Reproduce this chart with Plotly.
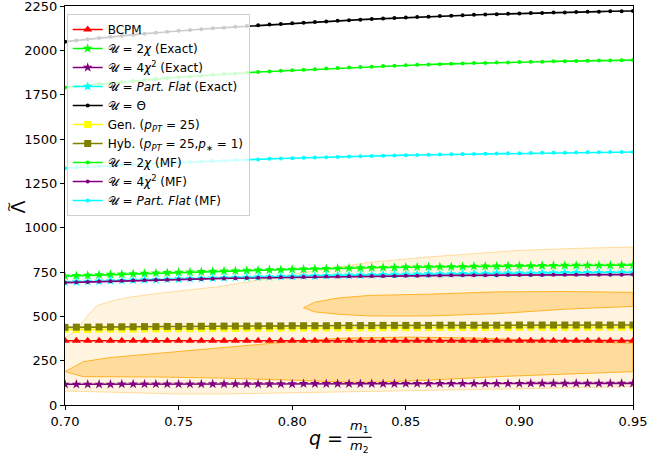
import numpy as np
import plotly.graph_objects as go

# ---------------- data ----------------
q = np.round(np.arange(0.70, 0.9501, 0.005), 3)

bcpm = [362, 362, 362, 362, 363, 363, 363, 363, 363, 363,
        363, 363, 363, 363, 363, 363, 363, 363, 363, 363,
        363, 363, 363, 363, 363, 363, 363, 363, 363, 363,
        363, 363, 363, 363, 363, 363, 363, 363, 363, 363,
        363, 363, 363, 363, 363, 363, 363, 363, 363, 363, 363]

chi2_exact = [727, 729, 731, 734, 736, 738, 740, 742, 744, 746,
              748, 750, 752, 753, 755, 757, 759, 760, 762, 763,
              765, 766, 768, 769, 771, 772, 773, 774, 775, 776,
              777, 778, 779, 779, 780, 781, 782, 783, 783, 784,
              785, 785, 786, 786, 787, 787, 788, 788, 788, 789, 789]

chisq4_exact = [117, 117, 117, 117, 117, 118, 118, 118, 118, 118,
                118, 118, 118, 119, 119, 119, 119, 119, 119, 119,
                119, 120, 120, 120, 120, 120, 120, 120, 120, 120,
                121, 121, 121, 121, 121, 121, 121, 121, 121, 121,
                121, 122, 122, 122, 122, 122, 122, 122, 122, 122, 122]

pflat_exact = [692, 694, 696, 698, 700, 702, 704, 706, 707, 709,
               711, 713, 714, 716, 717, 719, 720, 722, 723, 725,
               726, 727, 728, 730, 731, 732, 733, 734, 735, 736,
               737, 738, 739, 739, 740, 741, 742, 742, 743, 743,
               744, 744, 745, 745, 746, 746, 746, 747, 747, 748, 748]

theta = [2049, 2056, 2063, 2069, 2076, 2082, 2088, 2094, 2099, 2105,
         2110, 2115, 2119, 2124, 2128, 2133, 2137, 2141, 2145, 2149,
         2153, 2156, 2160, 2163, 2167, 2170, 2173, 2176, 2179, 2182,
         2185, 2188, 2190, 2193, 2195, 2198, 2200, 2202, 2204, 2206,
         2208, 2210, 2211, 2213, 2214, 2216, 2217, 2218, 2220, 2221, 2222]

gen = [425, 426, 426, 427, 427, 428, 428, 429, 429, 430,
       430, 430, 431, 431, 432, 432, 432, 433, 433, 433,
       434, 434, 434, 434, 435, 435, 435, 435, 436, 436,
       436, 436, 436, 437, 437, 437, 437, 437, 437, 437,
       438, 438, 438, 438, 438, 438, 438, 438, 438, 438, 438]

hyb = [438, 439, 439, 440, 440, 441, 441, 442, 442, 443,
       443, 443, 444, 444, 445, 445, 445, 446, 446, 446,
       447, 447, 447, 447, 448, 448, 448, 448, 449, 449,
       449, 449, 449, 450, 450, 450, 450, 450, 450, 450,
       451, 451, 451, 451, 451, 451, 451, 451, 451, 451, 451]

chi2_mf = [1791, 1797, 1804, 1810, 1816, 1822, 1827, 1833, 1838, 1843,
           1848, 1853, 1857, 1862, 1866, 1870, 1874, 1878, 1881, 1885,
           1888, 1891, 1894, 1897, 1900, 1903, 1906, 1908, 1911, 1913,
           1916, 1918, 1920, 1922, 1924, 1926, 1928, 1929, 1931, 1932,
           1934, 1935, 1936, 1938, 1939, 1940, 1941, 1942, 1943, 1944, 1945]

chisq4_mf = [690, 692, 694, 696, 698, 700, 702, 703, 705, 706,
             708, 709, 711, 712, 714, 715, 716, 717, 719, 720,
             721, 722, 723, 724, 725, 726, 727, 727, 728, 728,
             729, 729, 730, 730, 731, 731, 731, 732, 732, 733,
             733, 733, 733, 734, 734, 734, 734, 735, 735, 735, 736]

pflat_mf = [1335, 1339, 1342, 1346, 1349, 1353, 1356, 1359, 1362, 1365,
            1368, 1371, 1373, 1376, 1378, 1381, 1383, 1385, 1388, 1390,
            1392, 1394, 1396, 1397, 1399, 1401, 1403, 1404, 1406, 1407,
            1409, 1410, 1411, 1413, 1414, 1415, 1416, 1417, 1418, 1419,
            1420, 1421, 1422, 1422, 1423, 1424, 1425, 1425, 1426, 1426, 1427]

# credible-region contours (q, Lambda) boundaries
outer_q = [0.700, 0.705, 0.710, 0.714, 0.720, 0.727, 0.740, 0.768, 0.800, 0.834,
           0.860, 0.900, 0.930, 0.950,
           0.950, 0.900, 0.850, 0.800, 0.770, 0.750, 0.730, 0.715, 0.700]
outer_lam = [380, 420, 505, 560, 585, 605, 628, 668, 737, 805,
             835, 872, 885, 891,
             103, 92, 80, 68, 62, 62, 70, 76, 79]

inner1_q = [0.700, 0.708, 0.720, 0.740, 0.768, 0.800, 0.820, 0.850, 0.880, 0.910, 0.950,
            0.950, 0.920, 0.890, 0.860, 0.830, 0.800, 0.768, 0.740, 0.708, 0.700]
inner1_lam = [188, 244, 268, 290, 325, 358, 376, 383, 378, 365, 348,
              188, 175, 160, 140, 127, 140, 152, 158, 160, 188]

inner2_q = [0.805, 0.810, 0.820, 0.834, 0.860, 0.890, 0.920, 0.950,
            0.950, 0.920, 0.890, 0.860, 0.834, 0.820, 0.810, 0.805]
inner2_lam = [549, 580, 603, 618, 625, 638, 640, 635,
              556, 540, 515, 502, 502, 512, 525, 549]

xticks = [0.70, 0.75, 0.80, 0.85, 0.90, 0.95]
yticks = [0, 250, 500, 750, 1000, 1250, 1500, 1750, 2000, 2250]

U = "\U0001D4B0"
names = [
    "BCPM",
    f"{U} = 2<i>χ</i> (Exact)",
    f"{U} = 4<i>χ</i><sup>2</sup> (Exact)",
    f"{U} = <i>Part. Flat</i> (Exact)",
    f"{U} = Θ",
    "Gen. (<i>p</i><sub><i>PT</i></sub> = 25)",
    "Hyb. (<i>p</i><sub><i>PT</i></sub> = 25,<i>p</i><sub>∗</sub> = 1)",
    f"{U} = 2<i>χ</i> (MF)",
    f"{U} = 4<i>χ</i><sup>2</sup> (MF)",
    f"{U} = <i>Part. Flat</i> (MF)",
]

# ---------------- figure ----------------
fig = go.Figure()

fig.add_trace(go.Scatter(x=outer_q, y=outer_lam, fill="toself", mode="lines",
                         fillcolor="rgba(255,165,0,0.12)",
                         line=dict(color="rgba(255,165,0,0.35)", width=1),
                         showlegend=False, hoverinfo="skip"))
for qq, ll in [(inner1_q, inner1_lam), (inner2_q, inner2_lam)]:
    fig.add_trace(go.Scatter(x=qq, y=ll, fill="toself", mode="lines",
                             fillcolor="rgba(255,165,0,0.30)",
                             line=dict(color="rgba(255,165,0,0.8)", width=1),
                             showlegend=False, hoverinfo="skip"))

series = [
    (bcpm, "#ff0000", "triangle-up", 8),
    (chi2_exact, "#00ff00", "star", 7.5),
    (chisq4_exact, "#800080", "star", 7.5),
    (pflat_exact, "#00ffff", "star", 7.5),
    (theta, "#000000", "circle", 4),
    (gen, "#ffff00", "square", 7),
    (hyb, "#808000", "square", 7),
    (chi2_mf, "#00ff00", "circle", 4),
    (chisq4_mf, "#800080", "circle", 4),
    (pflat_mf, "#00ffff", "circle", 4),
]
for (vals, col, sym, sz), nm in zip(series, names):
    fig.add_trace(go.Scatter(x=q, y=vals, mode="lines+markers", name=nm,
                             line=dict(color=col, width=1.6),
                             marker=dict(color=col, symbol=sym, size=sz)))

axis_common = dict(showline=True, linecolor="black", linewidth=1, mirror=True,
                   ticks="outside", ticklen=4, tickcolor="black", showgrid=False,
                   zeroline=False, tickfont=dict(size=13, color="black"),
                   ticklabeloverflow="allow", automargin=False)
fig.update_xaxes(range=[0.70, 0.95], tickvals=xticks,
                 ticktext=[f"{v:.2f}" for v in xticks], **axis_common)
fig.update_yaxes(range=[0, 2250], tickvals=yticks, **axis_common)

def note(x, y, text, size, angle=0):
    fig.add_annotation(x=x, y=y, xref="paper", yref="paper", text=text,
                       textangle=angle, showarrow=False,
                       xanchor="center", yanchor="middle",
                       font=dict(size=size, color="black", family="DejaVu Sans"))

note(-0.082, 0.496, "Λ", 19, -90)
note(-0.100, 0.496, "~", 13, -90)
note(0.459, -0.083, "<i>q</i> =", 19)
note(0.518, -0.053, "<i>m</i><sub>1</sub>", 13)
note(0.518, -0.103, "<i>m</i><sub>2</sub>", 13)
fig.add_shape(type="line", xref="paper", yref="paper", x0=0.497, x1=0.540,
              y0=-0.081, y1=-0.081, line=dict(color="black", width=1.2))

fig.update_layout(
    width=647, height=455,
    margin=dict(l=65, r=14, t=6, b=50, autoexpand=False),
    plot_bgcolor="white", paper_bgcolor="white",
    font=dict(family="DejaVu Sans", color="black"),
    legend=dict(x=0.003, y=0.98, xanchor="left", yanchor="top",
                bgcolor="rgba(255,255,255,0.8)", bordercolor="#d0d0d0",
                borderwidth=1, font=dict(size=12), itemwidth=30,
                tracegroupgap=0),
)

fig.write_html("out.html", config={"displayModeBar": False},
               post_script="document.body.style.margin='0';")
